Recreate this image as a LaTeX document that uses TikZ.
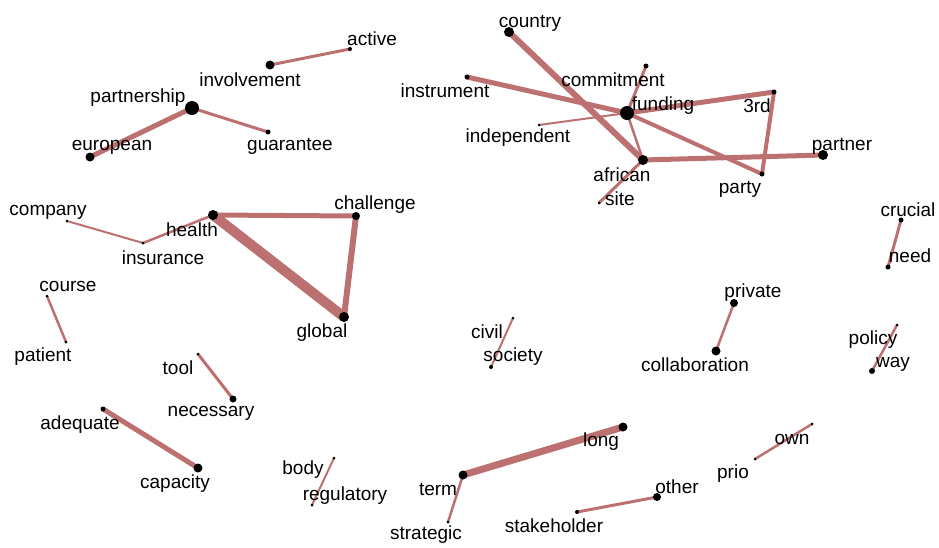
\documentclass[tikz,border=0pt]{standalone}
\usepackage{fontspec}
\setmainfont{Liberation Sans}
\usepackage{tikz}
\usetikzlibrary{backgrounds}
\definecolor{edgered}{RGB}{188,112,112}

\begin{document}
\begin{tikzpicture}[x=1pt,y=-1pt,
    dot/.style={circle, fill=black, minimum size=4pt, inner sep=0pt},
    word/.style={inner sep=0pt, font=\fontsize{19}{22}\selectfont},
    link/.style={edgered, line width=#1pt}]
    \useasboundingbox (0,0) rectangle (939,547);
    % top left
    \node[dot, minimum size=9pt] (involvement) at (270,65) {};
    \node[dot] (active) at (350,49) {};
    \node[dot, minimum size=14pt] (partnership) at (192,108) {};
    \node[dot, minimum size=9pt] (european) at (90,157) {};
    \node[dot, minimum size=5pt] (guarantee) at (268,132) {};
    \node[word] (involvement-l) at (250,80) {involvement};
    \node[word] (active-l) at (372,39) {active};
    \node[word] (partnership-l) at (138,98) {partnership};
    \node[word] (european-l) at (112,147) {european};
    \node[word] (guarantee-l) at (290,146) {guarantee};
    % funding cluster
    \node[dot, minimum size=10pt] (country) at (509,32) {};
    \node[dot, minimum size=5pt] (instrument) at (467,77) {};
    \node[dot, minimum size=5pt] (commitment) at (646,66) {};
    \node[dot, minimum size=14pt] (funding) at (627,113) {};
    \node[dot, minimum size=5pt] (third) at (774,92) {};
    \node[dot, minimum size=3pt] (independent) at (539,125) {};
    \node[dot, minimum size=10pt] (african) at (643,160) {};
    \node[dot, minimum size=3pt] (site) at (599,203) {};
    \node[dot, minimum size=5pt] (party) at (762,174) {};
    \node[dot, minimum size=10pt] (partner) at (823,155) {};
    \node[word] (country-l) at (530,23) {country};
    \node[word] (instrument-l) at (445,91) {instrument};
    \node[word] (commitment-l) at (613,80) {commitment};
    \node[word] (funding-l) at (663,106) {funding};
    \node[word] (third-l) at (757,106) {3rd};
    \node[word] (independent-l) at (518,138) {independent};
    \node[word] (african-l) at (622,175) {african};
    \node[word] (site-l) at (620,199) {site};
    \node[word] (party-l) at (740,189) {party};
    \node[word] (partner-l) at (842,146) {partner};
    % health cluster
    \node[dot, minimum size=3pt] (company) at (67,221) {};
    \node[dot, minimum size=3pt] (insurance) at (143,243) {};
    \node[dot, minimum size=10pt] (health) at (213,215) {};
    \node[dot, minimum size=8pt] (challenge) at (356,216) {};
    \node[dot, minimum size=10pt] (global) at (344,317) {};
    \node[word] (company-l) at (48,212) {company};
    \node[word] (insurance-l) at (163,258) {insurance};
    \node[word] (health-l) at (192,230) {health};
    \node[word] (challenge-l) at (375,205) {challenge};
    \node[word] (global-l) at (322,333) {global};
    % pairs
    \node[dot, minimum size=3pt] (course) at (47,296) {};
    \node[dot, minimum size=3pt] (patient) at (66,342) {};
    \node[dot, minimum size=3pt] (tool) at (198,354) {};
    \node[dot, minimum size=7pt] (necessary) at (233,399) {};
    \node[dot, minimum size=5pt] (adequate) at (103,409) {};
    \node[dot, minimum size=9pt] (capacity) at (198,468) {};
    \node[dot, minimum size=3pt] (body) at (334,458) {};
    \node[dot, minimum size=3pt] (regulatory) at (312,505) {};
    \node[dot, minimum size=9pt] (term) at (463,475) {};
    \node[dot, minimum size=3pt] (strategic) at (448,522) {};
    \node[dot, minimum size=9pt] (long) at (623,427) {};
    \node[dot, minimum size=3pt] (civil) at (513,318) {};
    \node[dot, minimum size=4pt] (society) at (491,367) {};
    \node[dot, minimum size=8pt] (private) at (734,303) {};
    \node[dot, minimum size=9pt] (collaboration) at (716,351) {};
    \node[dot, minimum size=5pt] (crucial) at (901,220) {};
    \node[dot, minimum size=5pt] (need) at (888,267) {};
    \node[dot, minimum size=3pt] (policy) at (897,325) {};
    \node[dot, minimum size=6pt] (way) at (872,371) {};
    \node[dot, minimum size=3pt] (own) at (812,424) {};
    \node[dot, minimum size=3pt] (prio) at (755,459) {};
    \node[dot, minimum size=8pt] (other) at (657,497) {};
    \node[dot, minimum size=4pt] (stakeholder) at (577,512) {};
    \node[word] (course-l) at (68,286) {course};
    \node[word] (patient-l) at (43,357) {patient};
    \node[word] (tool-l) at (178,368) {tool};
    \node[word] (necessary-l) at (211,413) {necessary};
    \node[word] (adequate-l) at (80,425) {adequate};
    \node[word] (capacity-l) at (175,484) {capacity};
    \node[word] (body-l) at (303,470) {body};
    \node[word] (regulatory-l) at (345,496) {regulatory};
    \node[word] (term-l) at (438,489) {term};
    \node[word] (strategic-l) at (426,535) {strategic};
    \node[word] (long-l) at (601,442) {long};
    \node[word] (civil-l) at (487,332) {civil};
    \node[word] (society-l) at (513,357) {society};
    \node[word] (private-l) at (753,293) {private};
    \node[word] (collaboration-l) at (695,365) {collaboration};
    \node[word] (crucial-l) at (908,210) {crucial};
    \node[word] (need-l) at (910,256) {need};
    \node[word] (policy-l) at (873,340) {policy};
    \node[word] (way-l) at (893,364) {way};
    \node[word] (own-l) at (792,439) {own};
    \node[word] (prio-l) at (733,474) {prio};
    \node[word] (other-l) at (677,487) {other};
    \node[word] (stakeholder-l) at (554,526) {stakeholder};
    \begin{scope}[on background layer]
    \draw[link=3] (involvement.center) -- (active.center);
    \draw[link=5] (partnership.center) -- (european.center);
    \draw[link=3] (partnership.center) -- (guarantee.center);
    \draw[link=6] (country.center) -- (african.center);
    \draw[link=5] (instrument.center) -- (funding.center);
    \draw[link=5] (funding.center) -- (third.center);
    \draw[link=4] (third.center) -- (party.center);
    \draw[link=4] (funding.center) -- (party.center);
    \draw[link=5] (african.center) -- (partner.center);
    \draw[link=2.5] (funding.center) -- (african.center);
    \draw[link=3] (commitment.center) -- (funding.center);
    \draw[link=2] (independent.center) -- (funding.center);
    \draw[link=3] (site.center) -- (african.center);
    \draw[link=2] (company.center) -- (insurance.center);
    \draw[link=2.5] (insurance.center) -- (health.center);
    \draw[link=5] (health.center) -- (challenge.center);
    \draw[link=10] (health.center) -- (global.center);
    \draw[link=6] (challenge.center) -- (global.center);
    \draw[link=2.5] (course.center) -- (patient.center);
    \draw[link=3] (tool.center) -- (necessary.center);
    \draw[link=5] (adequate.center) -- (capacity.center);
    \draw[link=2] (body.center) -- (regulatory.center);
    \draw[link=2.5] (term.center) -- (strategic.center);
    \draw[link=7] (term.center) -- (long.center);
    \draw[link=3] (stakeholder.center) -- (other.center);
    \draw[link=2.5] (prio.center) -- (own.center);
    \draw[link=2] (civil.center) -- (society.center);
    \draw[link=2.5] (private.center) -- (collaboration.center);
    \draw[link=3] (crucial.center) -- (need.center);
    \draw[link=2.5] (policy.center) -- (way.center);
    \end{scope}
\end{tikzpicture}
\end{document}
